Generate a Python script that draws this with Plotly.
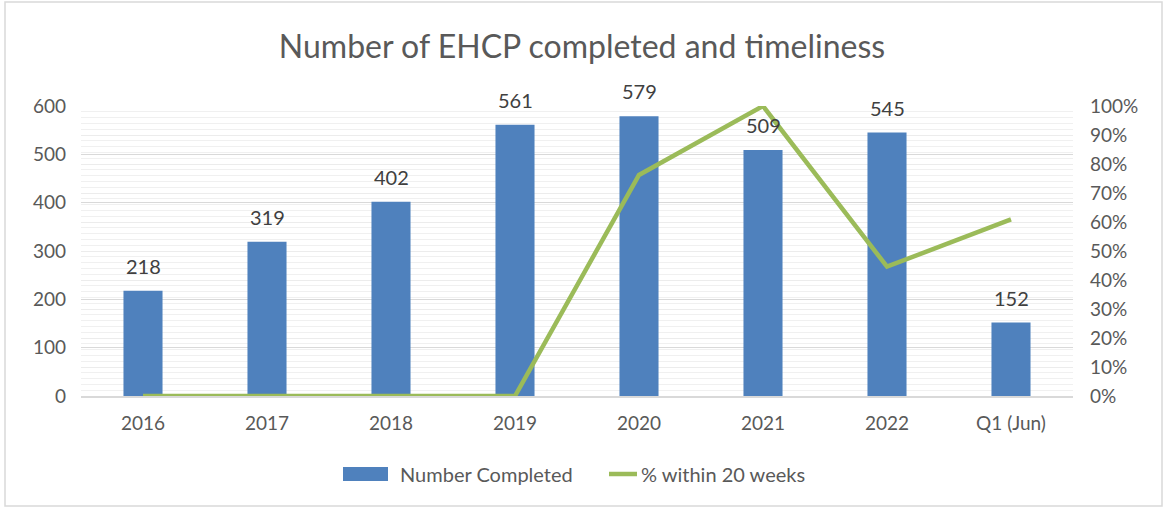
import plotly.graph_objects as go

categories = ["2016", "2017", "2018", "2019", "2020", "2021", "2022", "Q1 (Jun)"]
number_completed = [218, 319, 402, 561, 579, 509, 545, 152]
pct_within_20_weeks = [0.0, 0.0, 0.0, 0.0, 0.762, 1.0, 0.446, 0.609]
series_names = ["Number Completed", "% within 20 weeks"]

FONT = "Lato"
TXT = "#595959"
BLUE = "#4F81BD"
GREEN = "#9BBB59"

W, H = 1164, 508
L, R, T, B = 81, 91, 106, 112
PW, PH = W - L - R, H - T - B


def px(x):
    return (x - L) / PW


def py(y):
    return (H - B - y) / PH


fig = go.Figure()
fig.add_trace(go.Bar(
    x=categories, y=number_completed, name=series_names[0],
    marker=dict(color=BLUE, line=dict(width=0)),
))
fig.add_trace(go.Scatter(
    x=categories, y=pct_within_20_weeks, name=series_names[1],
    mode="lines", line=dict(color=GREEN, width=4.5),
    yaxis="y2",
))

annotations = [
    dict(x=i, y=v, xref="x", yref="y", text=str(v), showarrow=False,
         yshift=25, yanchor="middle", font=dict(size=20, color="#404040", family=FONT))
    for i, v in enumerate(number_completed)
]
# manual legend
annotations += [
    dict(x=px(398), y=py(474), xref="paper", yref="paper", text=series_names[0],
         showarrow=False, xanchor="left", yanchor="middle",
         font=dict(size=20, color=TXT, family=FONT)),
    dict(x=px(639), y=py(474), xref="paper", yref="paper", text=series_names[1],
         showarrow=False, xanchor="left", yanchor="middle",
         font=dict(size=20, color=TXT, family=FONT)),
]

shapes = [
    dict(type="rect", xref="paper", yref="paper",
         x0=px(5), x1=px(W - 2), y0=py(H - 2), y1=py(2),
         line=dict(color="#d9d9d9", width=1.5), fillcolor="rgba(0,0,0,0)", layer="below"),
    dict(type="rect", xref="paper", yref="paper",
         x0=px(343), x1=px(388), y0=py(481), y1=py(467),
         line=dict(width=0), fillcolor=BLUE),
    dict(type="line", xref="paper", yref="paper",
         x0=px(609), x1=px(637), y0=py(474), y1=py(474),
         line=dict(color=GREEN, width=4.5)),
]

fig.update_layout(
    width=W, height=H,
    paper_bgcolor="white", plot_bgcolor="white",
    margin=dict(l=L, r=R, t=T, b=B, autoexpand=False),
    font=dict(family=FONT, size=19, color=TXT),
    title=dict(text="Number of EHCP completed and timeliness", x=0.5, xanchor="center",
               y=1 - 47 / H, yanchor="middle", font=dict(size=32, color=TXT, family=FONT)),
    bargap=0.685,
    showlegend=False,
    xaxis=dict(type="category", range=[-0.5, len(categories) - 0.5],
               showgrid=False, showline=True, linecolor="#d9d9d9", linewidth=1.5,
               ticks="", ticklabelstandoff=9, tickfont=dict(size=19, color=TXT)),
    yaxis=dict(range=[0, 600], dtick=100, showgrid=True, gridcolor="#d9d9d9", gridwidth=1.3,
               zeroline=False, showline=False, ticks="", ticklabelstandoff=14,
               tickfont=dict(size=19, color=TXT)),
    yaxis2=dict(range=[0, 1], dtick=0.1, tickformat=".0%", overlaying="y", side="right",
                showgrid=True, gridcolor="#ececec", gridwidth=1,
                minor=dict(dtick=0.02, showgrid=True, gridcolor="#f0f0f0", gridwidth=1),
                zeroline=False, showline=False, ticks="", ticklabelstandoff=16,
                tickfont=dict(size=19, color=TXT)),
    annotations=annotations,
    shapes=shapes,
)

fig.write_html("out.html", config={"displayModeBar": False},
               post_script="document.body.style.margin='0';document.body.style.overflow='hidden';")
